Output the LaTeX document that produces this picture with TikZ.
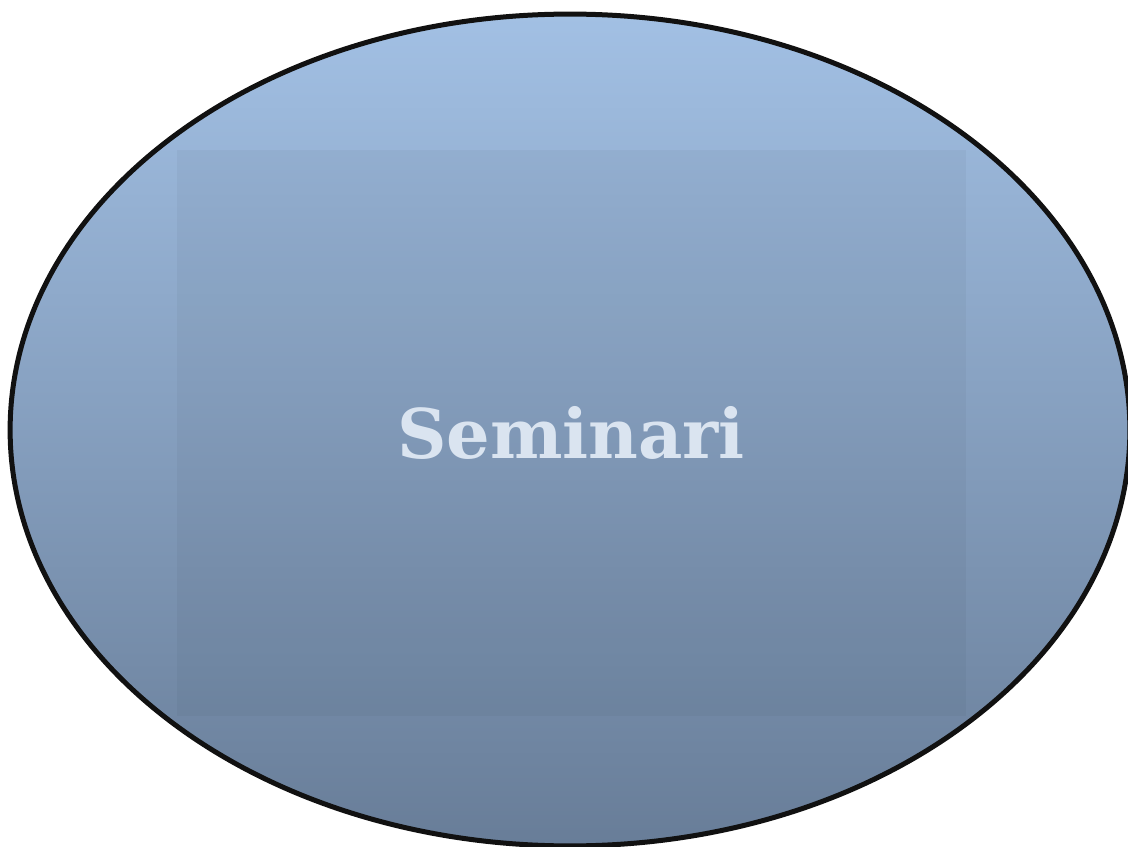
\documentclass[tikz,border=0pt]{standalone}
\usepackage{fontspec}
\usepackage{tikz}
\usetikzlibrary{shapes.geometric}
\newfontfamily\titlefont{DejaVu Serif}
\definecolor{topblue}{HTML}{A2C0E4}
\definecolor{lowblue}{HTML}{687D98}
\definecolor{titletext}{HTML}{DAE4F0}
\definecolor{rim}{HTML}{111111}

\begin{document}
\begin{tikzpicture}[x=0.02cm, y=-0.02cm,
  blob/.style={ellipse, draw=rim, line width=0.1cm, minimum width=22.4cm,
               minimum height=16.64cm, inner sep=0, top color=topblue,
               bottom color=lowblue},
  panel/.style={fill=black, fill opacity=0.035, draw=none},
  title/.style={font=\titlefont\bfseries\fontsize{39}{47}\selectfont,
                text=titletext}]
\clip (0,0) rectangle (1128,847);
\node[blob] (oval) at (570,430) {};
\fill[panel] (177,150) rectangle (966,716);
\node[title] (name) at (571,433) {Seminari};
\end{tikzpicture}
\end{document}
